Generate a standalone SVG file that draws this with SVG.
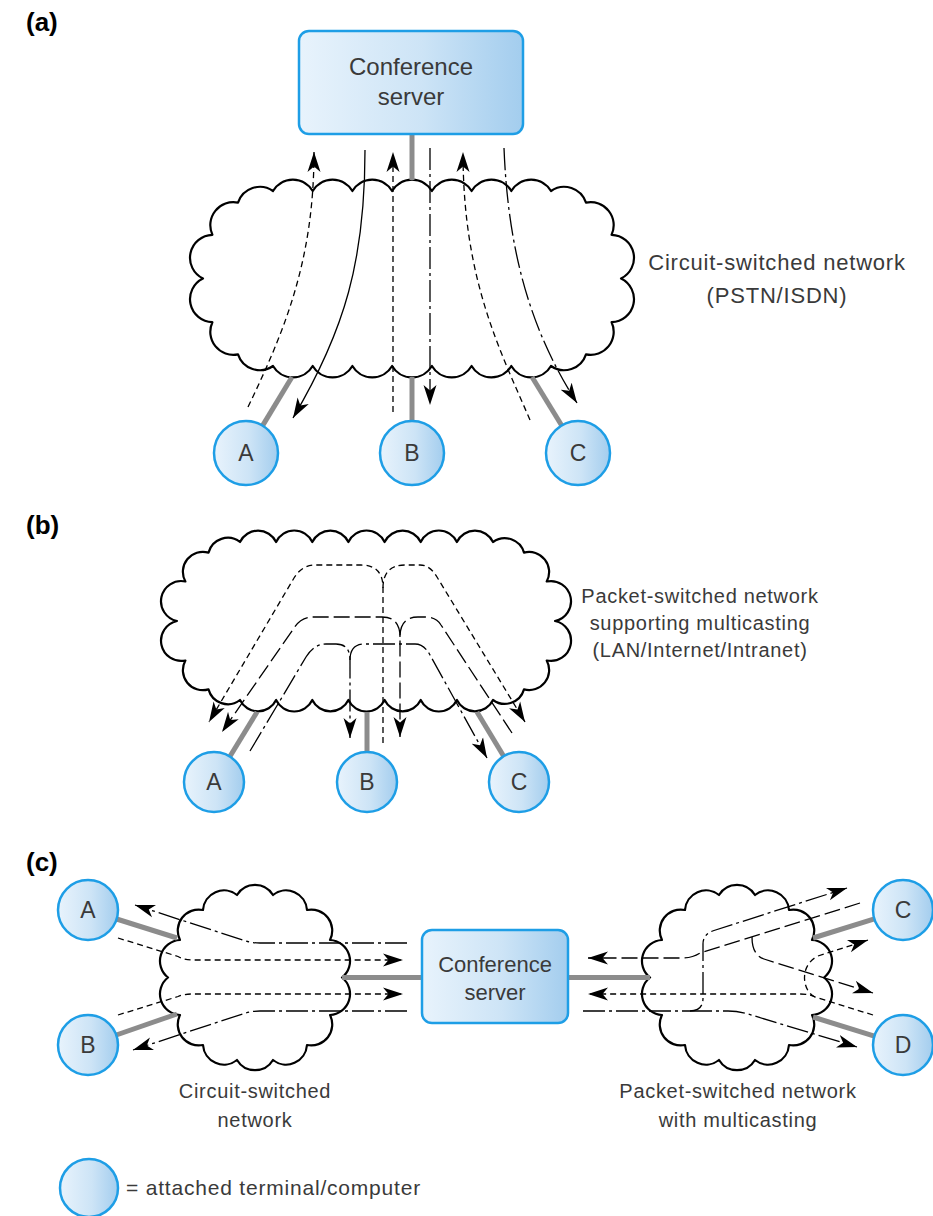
<svg xmlns="http://www.w3.org/2000/svg" width="933" height="1216" viewBox="0 0 933 1216">
  <defs>
    <linearGradient id="gBlue" x1="0" y1="0" x2="1" y2="0">
      <stop offset="0" stop-color="#e8f3fc"/>
      <stop offset="0.55" stop-color="#cde4f6"/>
      <stop offset="1" stop-color="#a3cdee"/>
    </linearGradient>
    <marker id="ah" markerWidth="21" markerHeight="14" refX="20" refY="7" orient="auto" markerUnits="userSpaceOnUse">
      <path d="M0,0.5 L20,7 L0,13.5 L5.5,7 z" fill="#000"/>
    </marker>
    <!-- small round cloud used twice in part (c), centred on the origin -->
    <path id="cloudSmall" d="M-18,-82.5 A21,21 0 0 1 18,-82.5 A21,21 0 0 1 52,-67.5 A21,21 0 0 1 75,-37.5 A21,21 0 0 1 87,0 A21,21 0 0 1 75,37.5 A21,21 0 0 1 52,67.5 A21,21 0 0 1 18,82.5 A21,21 0 0 1 -18,82.5 A21,21 0 0 1 -52,67.5 A21,21 0 0 1 -75,37.5 A21,21 0 0 1 -87,0 A21,21 0 0 1 -75,-37.5 A21,21 0 0 1 -52,-67.5 A21,21 0 0 1 -18,-82.5 Z"/>
  </defs>
  <style>
    .cloud { fill:#fff; stroke:#000; stroke-width:2.2; stroke-linejoin:round; }
    .link { fill:none; stroke:#8c8c8c; stroke-width:5; }
    .box { fill:url(#gBlue); stroke:#1e9ee6; stroke-width:2.5; }
    .fl { fill:none; stroke:#000; stroke-width:1.3; }
    .arr { marker-end:url(#ah); }
    .sd { stroke-dasharray:6 4; }
    .ld { stroke-dasharray:16 5; }
    .dd { stroke-dasharray:22 4 3 4; }
    .txt { font-family:"Liberation Sans", Arial, sans-serif; fill:#3a3a3a; }
    .ttl { font-family:"Liberation Sans", Arial, sans-serif; font-weight:bold; font-size:26px; fill:#000; }
    .node-t { font-size:23px; text-anchor:middle; }
    .cap { text-anchor:middle; }
  </style>

  <!-- part labels -->
  <g id="part-labels">
    <text class="ttl" x="26" y="31">(a)</text>
    <text class="ttl" x="26" y="534">(b)</text>
    <text class="ttl" x="26" y="871">(c)</text>
  </g>

  <!-- ===== (a) circuit-switched conference ===== -->
  <g id="cloud-a">
    <path class="cloud" d="M273,191 A23,23 0 0 1 312.7,191 A23,23 0 0 1 352.4,191 A23,23 0 0 1 392.1,191 A23,23 0 0 1 431.9,191 A23,23 0 0 1 471.6,191 A23,23 0 0 1 511.3,191 A23,23 0 0 1 551,191 A23,23 0 0 1 586,202.7 A23,23 0 0 1 611.6,234.8 A23,23 0 0 1 621,278.5 A23,23 0 0 1 611.6,322.2 A23,23 0 0 1 586,354.3 A23,23 0 0 1 551,366 A23,23 0 0 1 511.3,366 A23,23 0 0 1 471.6,366 A23,23 0 0 1 431.9,366 A23,23 0 0 1 392.1,366 A23,23 0 0 1 352.4,366 A23,23 0 0 1 312.7,366 A23,23 0 0 1 273,366 A23,23 0 0 1 238,354.3 A23,23 0 0 1 212.4,322.2 A23,23 0 0 1 203,278.5 A23,23 0 0 1 212.4,234.8 A23,23 0 0 1 238,202.7 A23,23 0 0 1 273,191 Z"/>
    <text class="txt cap" x="777" y="270" font-size="22" letter-spacing="0.8">Circuit-switched network</text>
    <text class="txt cap" x="777" y="303" font-size="22" letter-spacing="0.8">(PSTN/ISDN)</text>
  </g>

  <!-- ===== (b) packet-switched multicast ===== -->
  <g id="cloud-b">
    <path class="cloud" d="M240,542 A20,20 0 0 1 276.1,542 A20,20 0 0 1 312.3,542 A20,20 0 0 1 348.4,542 A20,20 0 0 1 384.6,542 A20,20 0 0 1 420.7,542 A20,20 0 0 1 456.9,542 A20,20 0 0 1 493,542 A20,20 0 0 1 524,552.6 A20,20 0 0 1 546.7,581.5 A20,20 0 0 1 555,621 A20,20 0 0 1 546.7,660.5 A20,20 0 0 1 524,689.4 A20,20 0 0 1 493,700 A20,20 0 0 1 456.9,700 A20,20 0 0 1 420.7,700 A20,20 0 0 1 384.6,700 A20,20 0 0 1 348.4,700 A20,20 0 0 1 312.3,700 A20,20 0 0 1 276.1,700 A20,20 0 0 1 240,700 A20,20 0 0 1 208.5,689.4 A20,20 0 0 1 185.4,660.5 A20,20 0 0 1 177,621 A20,20 0 0 1 185.4,581.5 A20,20 0 0 1 208.5,552.6 A20,20 0 0 1 240,542 Z"/>
    <text class="txt cap" x="700" y="603" font-size="20" letter-spacing="0.7">Packet-switched network</text>
    <text class="txt cap" x="700" y="630" font-size="20" letter-spacing="0.7">supporting multicasting</text>
    <text class="txt cap" x="700" y="657" font-size="20" letter-spacing="0.7">(LAN/Internet/Intranet)</text>
  </g>

  <!-- ===== (c) mixed networks ===== -->
  <g id="cloud-c-circuit">
    <use href="#cloudSmall" class="cloud" transform="translate(255,977.5)"/>
    <text class="txt cap" x="255" y="1098" font-size="20" letter-spacing="0.7">Circuit-switched</text>
    <text class="txt cap" x="255" y="1127" font-size="20" letter-spacing="0.7">network</text>
  </g>
  <g id="cloud-c-packet">
    <use href="#cloudSmall" class="cloud" transform="translate(737,977.5)"/>
    <text class="txt cap" x="738" y="1098" font-size="20" letter-spacing="0.7">Packet-switched network</text>
    <text class="txt cap" x="738" y="1127" font-size="20" letter-spacing="0.7">with multicasting</text>
  </g>

  <!-- connectors: access links and media flows -->
  <g id="connectors">
    <!-- (a) access links -->
    <line class="link" x1="412" y1="134" x2="412" y2="180"/>
    <line class="link" x1="292" y1="377" x2="262.6" y2="425.6"/>
    <line class="link" x1="412" y1="377" x2="412" y2="421"/>
    <line class="link" x1="532" y1="377" x2="561.7" y2="425.5"/>
    <!-- (a) flows: terminals up to server -->
    <path class="fl sd arr" d="M248,407 C285,330 314,260 314,152"/>
    <path class="fl sd arr" d="M393,412 V152"/>
    <path class="fl sd arr" d="M530,420 C500,350 463,280 463,152"/>
    <!-- (a) flows: server down to terminals -->
    <path class="fl arr" d="M365,150 C365,260 345,330 293,418"/>
    <path class="fl dd arr" d="M430,148 V405"/>
    <path class="fl dd arr" d="M504,148 C508,250 530,330 577,403"/>

    <!-- (b) access links -->
    <line class="link" x1="257" y1="712" x2="229.9" y2="756.5"/>
    <line class="link" x1="367" y1="712" x2="367" y2="752"/>
    <line class="link" x1="477" y1="712" x2="503.7" y2="756.2"/>
    <!-- (b) multicast from B -->
    <path class="fl sd arr" d="M383,743 V588 Q383,565 361,565 H315 Q302,565 294,578 L209,722"/>
    <path class="fl sd arr" d="M383,588 Q383,565 405,565 H420 Q430,565 437,577 L525,722"/>
    <!-- (b) multicast from C -->
    <path class="fl ld arr" d="M512,733 L441,625 Q436,617 425,617 H418 Q400,617 400,637 V737"/>
    <path class="fl ld arr" d="M400,637 Q400,617 382,617 H313 Q301,617 294,628 L222,732"/>
    <!-- (b) multicast from A -->
    <path class="fl dd arr" d="M250,751 L306,657 Q314,644 326,644 H336 Q350,644 350,660 V738"/>
    <path class="fl dd arr" d="M350,660 Q350,644 365,644 H415 Q424,644 430,655 L487,758"/>

    <!-- (c) access links -->
    <line class="link" x1="116.6" y1="919" x2="177" y2="938"/>
    <line class="link" x1="116.3" y1="1035" x2="177" y2="1014"/>
    <line class="link" x1="342" y1="977.5" x2="422" y2="977.5"/>
    <line class="link" x1="568" y1="977.5" x2="650" y2="977.5"/>
    <line class="link" x1="813" y1="938" x2="874.4" y2="918.9"/>
    <line class="link" x1="813" y1="1017" x2="874.4" y2="1036.1"/>
    <!-- (c) circuit side -->
    <path class="fl dd arr" d="M407,943 H260 Q252,943 244,940.5 L135,905"/>
    <path class="fl sd arr" d="M118,938 L178,956.5 Q184,960 192,960 H403"/>
    <path class="fl sd arr" d="M118,1015 L178,996.5 Q184,994 192,994 H403"/>
    <path class="fl dd arr" d="M407,1011 H260 Q252,1011 244,1013.5 L133,1050"/>
    <!-- (c) packet side -->
    <path class="fl ld arr" d="M860,903 L700,953 Q692,958 682,958 H588"/>
    <path class="fl ld arr" d="M752,937 Q752,955 764,959 L873,993"/>
    <path class="fl sd arr" d="M873,1015 L815,997 Q809,994 800,994 H588"/>
    <path class="fl sd arr" d="M815,997 C803,992 798,966 818,956 L868,940"/>
    <path class="fl dd arr" d="M583,1011 H690 Q703,1011 703,998 V944 Q703,934 714,930.5 L847,888"/>
    <path class="fl dd arr" d="M690,1011 H728 Q738,1011 748,1014 L857,1047"/>
  </g>

  <!-- servers -->
  <g id="server-a">
    <rect class="box" x="299" y="31" width="224" height="103" rx="10"/>
    <text class="txt cap" x="411" y="75" font-size="24">Conference</text>
    <text class="txt cap" x="411" y="105" font-size="24">server</text>
  </g>
  <g id="server-c">
    <rect class="box" x="422" y="930" width="146" height="93" rx="10"/>
    <text class="txt cap" x="495" y="972" font-size="22">Conference</text>
    <text class="txt cap" x="495" y="1000" font-size="22">server</text>
  </g>

  <!-- terminals (a) -->
  <g id="node-a-A"><circle class="box" cx="246" cy="453" r="32"/><text class="txt node-t" x="246" y="461">A</text></g>
  <g id="node-a-B"><circle class="box" cx="412" cy="453" r="32"/><text class="txt node-t" x="412" y="461">B</text></g>
  <g id="node-a-C"><circle class="box" cx="578" cy="453" r="32"/><text class="txt node-t" x="578" y="461">C</text></g>
  <!-- terminals (b) -->
  <g id="node-b-A"><circle class="box" cx="214" cy="782" r="30"/><text class="txt node-t" x="214" y="790">A</text></g>
  <g id="node-b-B"><circle class="box" cx="367" cy="782" r="30"/><text class="txt node-t" x="367" y="790">B</text></g>
  <g id="node-b-C"><circle class="box" cx="519" cy="782" r="30"/><text class="txt node-t" x="519" y="790">C</text></g>
  <!-- terminals (c) -->
  <g id="node-c-A"><circle class="box" cx="88" cy="910" r="30"/><text class="txt node-t" x="88" y="918">A</text></g>
  <g id="node-c-B"><circle class="box" cx="88" cy="1045" r="30"/><text class="txt node-t" x="88" y="1053">B</text></g>
  <g id="node-c-C"><circle class="box" cx="903" cy="910" r="30"/><text class="txt node-t" x="903" y="918">C</text></g>
  <g id="node-c-D"><circle class="box" cx="903" cy="1045" r="30"/><text class="txt node-t" x="903" y="1053">D</text></g>

  <!-- key -->
  <g id="legend">
    <circle class="box" cx="89" cy="1188" r="29"/>
    <text class="txt" x="126" y="1195" font-size="21" letter-spacing="0.8">= attached terminal/computer</text>
  </g>
</svg>
